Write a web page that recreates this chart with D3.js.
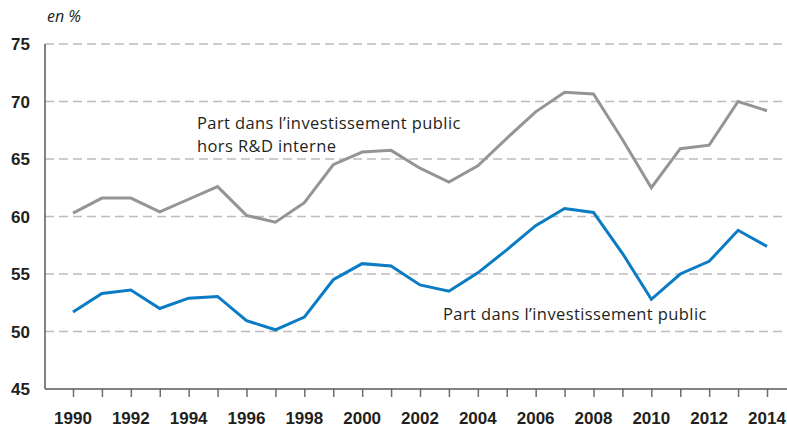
<!DOCTYPE html>
<html>
<head>
<meta charset="utf-8">
<script src="https://cdn.jsdelivr.net/npm/d3@7"></script>
<style>
  body { margin: 0; background: #fff; }
  svg { display: block; }
</style>
</head>
<body>
<svg id="chart" width="787" height="428"></svg>
<script>
// years on the x axis, one point per year
const years = d3.range(1990, 2015);
const yearLabels = d3.range(1990, 2015, 2);
const yTicks = [45, 50, 55, 60, 65, 70, 75];

// Part dans l'investissement public hors R&D interne (grey)
const horsRD = [60.3, 61.6, 61.6, 60.4, 61.5, 62.6, 60.1, 59.5, 61.2, 64.5,
                65.6, 65.75, 64.2, 63.0, 64.4, 66.8, 69.1, 70.8, 70.65, 66.7,
                62.5, 65.9, 66.2, 70.0, 69.2];

// Part dans l'investissement public (blue)
const invPublic = [51.7, 53.3, 53.6, 52.0, 52.9, 53.05, 50.95, 50.15, 51.25, 54.5,
                   55.9, 55.7, 54.05, 53.5, 55.1, 57.1, 59.2, 60.7, 60.35, 56.8,
                   52.8, 55.0, 56.1, 58.8, 57.4];

const svg = d3.select('#chart');
const plotLeft = 45, plotRight = 787, plotTop = 44, plotBottom = 389;

const x = d3.scaleLinear().domain([1990, 2014]).range([73, 767]);
const y = d3.scaleLinear().domain([45, 75]).range([plotBottom, plotTop]);

// dashed gridlines
svg.append('g')
    .selectAll('line')
    .data(yTicks.filter(function(d) { return d > 45; }))
    .enter()
    .append('line')
    .attr('x1', plotLeft).attr('x2', plotRight)
    .attr('y1', function(d) { return y(d); })
    .attr('y2', function(d) { return y(d); })
    .attr('stroke', '#bdbdbd')
    .attr('stroke-width', 1.5)
    .attr('stroke-dasharray', '9,5');

// y axis labels
svg.append('g')
    .selectAll('text')
    .data(yTicks)
    .enter()
    .append('text')
    .attr('x', 30)
    .attr('y', function(d) { return y(d) + 6; })
    .attr('text-anchor', 'end')
    .attr('font-family', 'Liberation Sans, Arial, sans-serif')
    .attr('font-weight', 'bold')
    .attr('font-size', 17)
    .attr('fill', '#231f20')
    .text(function(d) { return d; });

// x axis, ticks below the line
const xAxis = d3.axisBottom(x)
    .tickValues(years)
    .tickSize(8)
    .tickFormat('');
const gx = svg.append('g')
    .attr('transform', 'translate(0,' + plotBottom + ')')
    .call(xAxis);
gx.select('.domain').remove();
gx.selectAll('.tick line').attr('stroke', '#6d6e71').attr('stroke-width', 1.5);

svg.append('line')
    .attr('x1', plotLeft).attr('x2', plotRight)
    .attr('y1', plotBottom).attr('y2', plotBottom)
    .attr('stroke', '#58595b').attr('stroke-width', 1.5);

svg.append('line')
    .attr('x1', plotLeft).attr('x2', plotLeft)
    .attr('y1', plotTop).attr('y2', plotBottom)
    .attr('stroke', '#58595b').attr('stroke-width', 1.5);

svg.append('g')
    .selectAll('text')
    .data(yearLabels)
    .enter()
    .append('text')
    .attr('x', function(d) { return x(d); })
    .attr('y', 424)
    .attr('text-anchor', 'middle')
    .attr('font-family', 'Liberation Sans, Arial, sans-serif')
    .attr('font-weight', 'bold')
    .attr('font-size', 17)
    .attr('fill', '#231f20')
    .text(function(d) { return d; });

// unit
svg.append('text')
    .attr('x', 47).attr('y', 22)
    .attr('font-family', 'Open Sans, sans-serif')
    .attr('font-style', 'italic')
    .attr('font-size', 16)
    .attr('fill', '#231f20')
    .text('en %');

// lines
const line = d3.line()
    .x(function(d, i) { return x(years[i]); })
    .y(function(d) { return y(d); });

svg.append('path')
    .datum(horsRD)
    .attr('d', line)
    .attr('fill', 'none')
    .attr('stroke', '#939598')
    .attr('stroke-width', 3);

svg.append('path')
    .datum(invPublic)
    .attr('d', line)
    .attr('fill', 'none')
    .attr('stroke', '#0a7bc4')
    .attr('stroke-width', 3);

// series labels
const labelFont = 'Open Sans, sans-serif';
const labelSize = 16.5;
function label(px, py, str) {
    svg.append('text')
        .attr('x', px).attr('y', py)
        .attr('font-family', labelFont)
        .attr('font-size', labelSize)
        .attr('letter-spacing', 0.4)
        .attr('fill', '#231f20')
        .text(str);
}
label(197, 129, 'Part dans l\u2019investissement public');
label(197, 151.5, 'hors R&D interne');
label(443, 320, 'Part dans l\u2019investissement public');
</script>
</body>
</html>
